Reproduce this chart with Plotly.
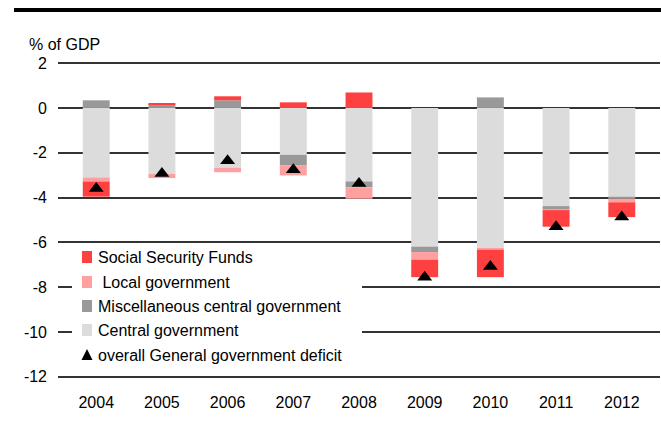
import plotly.graph_objects as go

years = ["2004", "2005", "2006", "2007", "2008", "2009", "2010", "2011", "2012"]
central_gov = [-3.10, -2.93, -2.66, -2.09, -3.28, -6.19, -6.28, -4.38, -3.96]
misc_central = [0.34, 0.16, 0.34, -0.48, -0.26, -0.24, 0.47, -0.14, -0.09]
local_gov = [-0.18, -0.20, -0.21, -0.44, -0.51, -0.34, -0.05, -0.04, -0.16]
social_security = [-0.68, 0.05, 0.18, 0.25, 0.69, -0.78, -1.22, -0.74, -0.66]
overall_deficit = [-3.60, -2.93, -2.36, -2.76, -3.37, -7.55, -7.08, -5.30, -4.87]

ytick_vals = [2, 0, -2, -4, -6, -8, -10, -12]
ytick_text = ["2", "0", "-2", "-4", "-6", "-8", "-10", "-12"]

FONT = "Liberation Sans, Arial, sans-serif"
FS = 16

# plot area geometry (px) used to place the hand-drawn legend
L, R, T, B, W, H = 58, 1, 62, 49, 661, 427
PW, PH = W - L - R, H - T - B


def px_x(px):
    return (px - L) / PW


def px_y(py):
    return (H - B - py) / PH


fig = go.Figure()
bars = [
    ("Central government", central_gov, "#dcdcdc"),
    ("Miscellaneous central government", misc_central, "#999999"),
    (" Local government", local_gov, "#ffa0a0"),
    ("Social Security Funds", social_security, "#ff4040"),
]
for name, vals, col in bars:
    fig.add_trace(go.Bar(
        x=years, y=vals, name=name, marker=dict(color=col, line=dict(width=0)),
        showlegend=False,
    ))
fig.add_trace(go.Scatter(
    x=years, y=overall_deficit, mode="markers", name="overall General government deficit",
    marker=dict(symbol="triangle-up", size=13, color="black"),
    showlegend=False,
))

# legend (drawn by hand to match the reference's tight spacing)
legend_items = [
    ("Social Security Funds", "#ff4040", 257, 96),
    (" Local government", "#ffa0a0", 282, 96),
    ("Miscellaneous central government", "#999999", 306, 96),
    ("Central government", "#dcdcdc", 330, 96),
    ("overall General government deficit", None, 355, 96),
]
shapes = [
    dict(type="line", xref="paper", yref="paper",
         x0=px_x(14), x1=1.01, y0=px_y(10), y1=px_y(10),
         line=dict(color="black", width=4)),
    dict(type="rect", xref="paper", yref="paper",
         x0=px_x(72), x1=px_x(362), y0=px_y(365), y1=px_y(245),
         fillcolor="white", line=dict(width=0), layer="above"),
]
annotations = [dict(text="% of GDP", xref="paper", yref="paper",
                    x=px_x(27), y=px_y(45), xanchor="left", yanchor="middle",
                    showarrow=False, font=dict(size=FS))]
for text, col, yc, tx in legend_items:
    if col is not None:
        shapes.append(dict(type="rect", xref="paper", yref="paper",
                           x0=px_x(82), x1=px_x(92), y0=px_y(yc + 6), y1=px_y(yc - 6),
                           fillcolor=col, line=dict(width=0), layer="above"))
    else:
        shapes.append(dict(type="path", xref="paper", yref="paper",
                           path="M {} {} L {} {} L {} {} Z".format(
                               px_x(81.5), px_y(yc + 5), px_x(92.5), px_y(yc + 5),
                               px_x(87), px_y(yc - 6)),
                           fillcolor="black", line=dict(width=0), layer="above"))
    annotations.append(dict(text=text.replace(" ", "&nbsp;", 1) if text.startswith(" ") else text,
                            xref="paper", yref="paper",
                            x=px_x(tx), y=px_y(yc), xanchor="left", yanchor="middle",
                            showarrow=False, font=dict(size=FS)))

fig.update_layout(
    width=W, height=H,
    margin=dict(l=L, r=R, t=T, b=B),
    barmode="relative", bargap=0.59,
    plot_bgcolor="white", paper_bgcolor="white",
    font=dict(family=FONT, size=FS, color="black"),
    xaxis=dict(showgrid=False, ticks="", ticklabelstandoff=13, showline=False),
    yaxis=dict(
        range=[-12.05, 2.05], tickvals=ytick_vals, ticktext=ytick_text,
        showgrid=True, gridcolor="#333333", gridwidth=1.5,
        zeroline=True, zerolinecolor="#333333", zerolinewidth=1.5,
        ticks="", ticklabelstandoff=10, showline=False,
    ),
    shapes=shapes,
    annotations=annotations,
    showlegend=False,
)

fig.write_html("out.html")
